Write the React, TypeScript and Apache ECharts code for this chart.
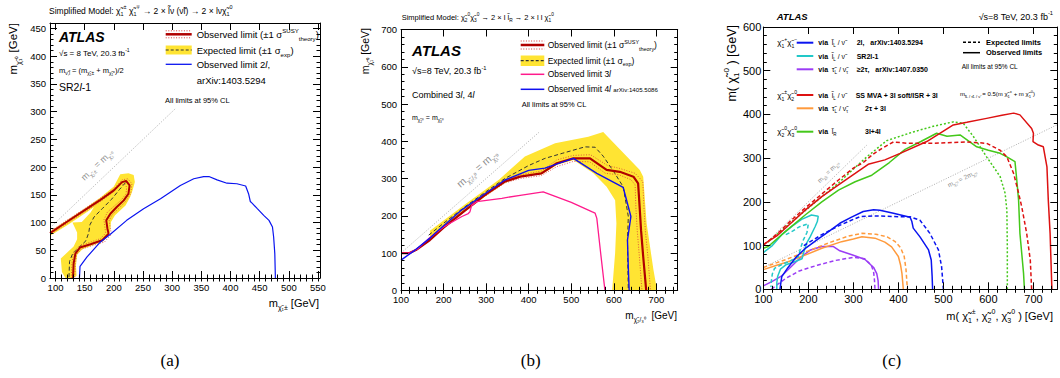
import React, { useEffect, useRef } from "react";
import * as echarts from "echarts";

const F = "Liberation Sans";
const YEL = "#FFE433";
const DRED = "#B00000";
const DOTRED = "#D83A3A";

// ---------------- panel (a) ----------------
const aXLabels = [100, 150, 200, 250, 300, 350, 400, 450, 500, 550];
const aYLabels = [0, 50, 100, 150, 200, 250, 300, 350, 400, 450];
const aBand = [[90.5,84],[120,104],[154,128],[177,145],[200,165],[211,187],[225,189],[234,186],[236,173],[232,158],[228,146],[220,131],[202,113],[195,101],[194,86],[191,76],[181,66],[161,58],[146,52],[137,42],[135,22],[136,4],[130,0],[117,0],[111,11],[109,35],[120,46],[131,57],[137,70],[137,82],[129,100],[145,101],[160,118],[166,128],[154,119],[120,95],[90.5,76]];
const aObs = [[90.5,81],[119,101],[154,125],[177,141],[200,158],[214,173],[221,175],[227,167],[225,152],[217,140],[205,128],[194,116],[187,104],[189,89],[191,80],[180,68],[160,61],[142,55],[134,44],[131,26],[130,0]];
const aObsUp = [[90.5,84],[119,104],[154,128],[177,144],[200,161],[214,177],[224,179],[231,170],[229,153],[221,139],[209,126],[197,114],[192,104],[194,89],[196,79],[184,65],[162,58],[144,52],[136,42],[134,26],[133,0]];
const aObsDown = [[90.5,78],[119,98],[154,122],[177,138],[199,155],[211,168],[218,170],[222,164],[221,152],[213,141],[201,130],[189,119],[183,105],[185,89],[186,81],[177,71],[158,64],[141,58],[131,47],[128,26],[127,0]];
const aExp = [[220,172],[210,160],[196,142],[180,125],[166,110],[159,96],[157,82],[152,67],[140,55],[129,43],[124,30],[123,0]];
const a2l = [[141,0],[142,21],[154,38],[177,65],[194,79],[222,104],[251,125],[280,143],[314,167],[337,179],[354,183],[363,183],[377,177],[394,171],[411,170],[426,166],[431,152],[434,138],[437,135],[446,125],[457,113],[466,104],[472,92],[474,74],[476,44],[477,0]];
const aDiag = [[90.5,90.5],[305,305]];

// ---------------- panel (b) ----------------
const bXLabels = [100, 200, 300, 400, 500, 600, 700];
const bYLabels = [0, 100, 200, 300, 400, 500, 600, 700];
const bBand = [[168,160],[250,230],[330,297],[391,359],[462,395],[540,412],[575,425],[661,323],[669,305],[677,180],[693,55],[700,10],[700,0],[596,0],[603,100],[606,180],[603,242],[583,278],[552,314],[505,350],[466,336],[430,311],[400,311],[344,288],[300,254],[250,211],[200,166],[168,140]];
const bObs = [[100,100],[120,100],[135,108],[168,135],[200,168],[250,214],[300,258],[344,292],[380,305],[430,314],[466,341],[505,354],[544,354],[583,323],[614,318],[646,305],[657,287],[661,216],[664,160],[669,90],[676,0]];
const bObsUp = [[300,262],[344,296],[380,310],[430,320],[466,350],[505,362],[545,364],[585,335],[614,327],[650,314],[668,292],[671,216],[674,160],[680,90],[686,0]];
const bObsDown = [[300,254],[344,288],[380,300],[430,308],[466,332],[505,346],[543,345],[580,314],[612,310],[640,297],[650,283],[652,216],[655,160],[660,90],[666,0]];
const bExp = [[165,148],[200,180],[250,224],[300,265],[344,300],[400,335],[438,354],[480,368],[532,385],[556,384],[575,360],[600,318],[622,278],[634,198],[632,135],[633,60],[634,0]];
const b3l = [[100,100],[120,100],[140,112],[168,142],[200,170],[243,198],[258,206],[262,211],[266,228],[278,238],[337,247],[380,255],[434,264],[500,236],[548,211],[556,207],[560,193],[569,100],[579,0]];
const b4l = [[100,81],[133,108],[168,140],[180,153],[243,216],[282,247],[344,296],[400,322],[438,328],[505,354],[560,314],[622,276],[640,198],[632,135],[634,60],[636,0]];
const bDiag = [[100,100],[425,425]];

// ---------------- panel (c) ----------------
const cXLabels = [100, 200, 300, 400, 500, 600, 700];
const cYLabels = [0, 100, 200, 300, 400, 500, 600];
const cRedObs = [[100,99],[104,105],[130,122],[160,150],[193,181],[230,212],[267,239],[304,265],[333,286],[370,296],[404,311],[463,338],[522,376],[552,382],[596,391],[630,398],[656,403],[670,399],[696,368],[700,357],[699,338],[711,330],[722,326],[730,280],[733,204],[737,128],[741,0]];
const cRedExp = [[100,101],[130,126],[160,156],[193,186],[230,218],[267,250],[300,277],[322,290],[345,310],[363,322],[389,337],[419,334],[478,334],[552,337],[596,334],[626,318],[641,303],[656,265],[667,220],[674,189],[685,128],[693,67],[696,0]];
const cGreenObs = [[100,94],[111,98],[150,133],[193,170],[230,200],[267,227],[304,246],[341,261],[380,290],[415,320],[450,338],[485,357],[508,350],[537,353],[574,326],[600,318],[626,311],[641,303],[659,292],[663,250],[667,204],[670,128],[678,37],[680,0]];
const cGreenExp = [[110,108],[150,143],[193,180],[230,212],[267,243],[300,275],[330,303],[374,340],[433,360],[478,373],[522,383],[544,380],[567,349],[596,303],[626,258],[637,220],[641,181],[642,97],[642,0]];
const cBlueObs = [[137,0],[139,15],[141,29],[155,50],[174,75],[195,95],[219,113],[245,132],[270,151],[296,165],[322,178],[345,182],[359,181],[389,174],[426,165],[430,155],[433,140],[448,120],[467,90],[473,67],[475,30],[476,0]];
const cBlueExp = [[190,100],[230,125],[267,145],[300,160],[315,166],[344,168],[404,166],[426,166],[448,158],[470,128],[489,90],[496,52],[500,0]];
const cCyanObs = [[100,84],[120,100],[141,125],[165,145],[185,160],[207,170],[222,167],[220,155],[215,143],[204,120],[196,105],[190,85],[186,70],[167,62],[150,56],[138,46],[132,30],[130,15],[130,0]];
const cCyanExp = [[150,125],[165,133],[180,143],[200,150],[197,130],[189,113],[183,95],[178,75],[160,65],[140,56],[125,48],[120,35],[118,20],[117,5]];
const cOrangeObs = [[100,45],[130,55],[155,63],[190,77],[230,94],[274,109],[300,115],[319,120],[348,117],[370,108],[385,97],[400,75],[405,55],[408,36],[411,0]];
const cOrangeExp = [[100,50],[150,68],[200,88],[250,108],[290,122],[319,128],[350,126],[375,120],[393,109],[405,95],[413,75],[417,45],[420,0]];
const cPurpleObs = [[100,8],[120,18],[140,30],[160,50],[185,75],[205,90],[230,98],[255,98],[270,88],[300,78],[326,68],[345,50],[352,36],[355,20],[356,0]];
const cPurpleExp = [[118,0],[130,10],[150,25],[180,42],[220,55],[260,66],[300,73],[325,70],[340,55],[345,40],[347,20],[348,0]];
const cDiag1 = [[100,100],[330,330]];
const cDiag2 = [[100,50],[752,376]];

const C = {
  blue: "#0A14F0", cyan: "#22C8C8", purple: "#9B3CF5", red: "#DD1111",
  orange: "#FF9A3C", green: "#44C81A", pink: "#FF1A8C", blueB: "#1010F0",
};

function steps(a: number, b: number, s: number) {
  const r: number[] = [];
  for (let v = a; v <= b + 1e-9; v += s) r.push(Math.round(v * 1000) / 1000);
  return r;
}

function rich(fs: number, bold = false) {
  const w = bold ? "bold" : "normal";
  const lh = Math.round(fs * 1.45);
  const s = Math.max(4, fs * 0.64);
  return {
    i: { fontSize: fs, fontFamily: F, fontWeight: w, fontStyle: "italic", lineHeight: lh },
    d: { fontSize: s, fontFamily: F, fontWeight: w, verticalAlign: "bottom", lineHeight: s + 1 },
    u: { fontSize: s, fontFamily: F, fontWeight: w, verticalAlign: "top", lineHeight: s + 1 },
    sm: { fontSize: fs * 0.72, fontFamily: F, fontWeight: w, lineHeight: lh },
  };
}

function T(x: number, y: number, text: string, fs: number, o: any = {}) {
  const align = o.align || "left";
  const va = o.va || "middle";
  return {
    type: "text", x, y, rotation: o.rot || 0, silent: true, z: 100,
    style: {
      text, fill: o.fill || "#000", align, verticalAlign: va, textAlign: align, textVerticalAlign: va,
      fontSize: fs, fontFamily: o.family || F, fontWeight: o.bold ? "bold" : "normal",
      fontStyle: o.italic ? "italic" : "normal", lineHeight: Math.round(fs * 1.45),
      rich: rich(fs, !!o.bold),
    },
  };
}

function Ln(x1: number, y1: number, x2: number, y2: number, stroke: string, lw: number, dash?: number[]) {
  return { type: "line", silent: true, z: 100, shape: { x1, y1, x2, y2 }, style: { stroke, lineWidth: lw, lineDash: dash || null } };
}

function axesFor(g: number, xr: number[], yr: number[], xMaj: number[], xMin: number[], yMaj: number[], yMin: number[], fs: number, xm: number, ym: number) {
  const base: any = { type: "value", gridIndex: g, splitLine: { show: false }, z: 10 };
  const line = { show: true, onZero: false, lineStyle: { color: "#000", width: 1 } };
  const tick = (vals: number[], len: number) => ({ show: true, inside: true, length: len, customValues: vals, lineStyle: { color: "#000", width: 1 } });
  const lab = (vals: number[], margin: number) => ({ show: true, customValues: vals, fontSize: fs, fontFamily: F, color: "#000", margin, formatter: (v: number) => String(Math.round(v)) });
  const nol = { show: false };
  const x = { ...base, min: xr[0], max: xr[1] };
  const y = { ...base, min: yr[0], max: yr[1] };
  const xs = [
    { ...x, position: "bottom", axisLine: line, axisTick: tick(xMaj, 7), axisLabel: lab(xMaj, xm) },
    { ...x, position: "bottom", axisLine: nol, axisTick: tick(xMin, 3.5), axisLabel: nol },
    { ...x, position: "top", axisLine: line, axisTick: tick(xMaj, 7), axisLabel: nol },
    { ...x, position: "top", axisLine: nol, axisTick: tick(xMin, 3.5), axisLabel: nol },
  ];
  const ys = [
    { ...y, position: "left", axisLine: line, axisTick: tick(yMaj, 7), axisLabel: lab(yMaj, ym) },
    { ...y, position: "left", axisLine: nol, axisTick: tick(yMin, 3.5), axisLabel: nol },
    { ...y, position: "right", axisLine: line, axisTick: tick(yMaj, 7), axisLabel: nol },
    { ...y, position: "right", axisLine: nol, axisTick: tick(yMin, 3.5), axisLabel: nol },
  ];
  return { xs, ys };
}

function L(data: number[][], g: number, color: string, width: number, type: any = "solid", z = 5) {
  return {
    type: "line", data, xAxisIndex: g * 4, yAxisIndex: g * 4, showSymbol: false, symbol: "none",
    lineStyle: { color, width, type }, silent: true, z, clip: true,
  };
}

function Band(poly: number[][], g: number) {
  return {
    type: "custom", xAxisIndex: g * 4, yAxisIndex: g * 4, silent: true, z: 2, clip: true,
    data: [[poly[0][0], poly[0][1]]],
    renderItem: (_p: any, api: any) => ({
      type: "polygon", shape: { points: poly.map((p) => api.coord(p)) }, style: { fill: YEL },
    }),
  };
}

const CHI = "χ̃";
const DOT = [1, 1.6];
const DASH = [4, 2.5];

export default function App() {
  const ref = useRef<HTMLDivElement>(null);
  useEffect(() => {
    if (!ref.current) return;
    const chart = echarts.init(ref.current, undefined, { renderer: "svg" });
    const A = axesFor(0, [90.5, 553.5], [0, 460], aXLabels, steps(100, 550, 10), aYLabels, steps(0, 460, 10), 9.5, 4, 4);
    const B = axesFor(1, [100, 750], [0, 700], bXLabels, steps(100, 740, 20), bYLabels, steps(0, 700, 20), 9.5, 4.5, 4);
    const Cx = axesFor(2, [100, 753], [0, 600], cXLabels, steps(100, 740, 20), cYLabels, steps(0, 600, 20), 11, 4.5, 2);

    const graphics: any[] = [
      // ----- panel (a) texts
      T(49, 10.7, `Simplified Model: ${CHI}{d|1}{u|±} ${CHI}{d|1}{u|∓} → 2 × l̃ν (ν̃l) → 2 × lν${CHI}{d|1}{u|0}`, 8.5),
      T(59, 36.7, "ATLAS", 14, { bold: true, italic: true }),
      T(59, 53.3, "√s = 8 TeV, 20.3 fb{u|-1}", 8),
      T(59, 70, `m{d|ν̃,l̃} = (m{d|${CHI}₁±} + m{d|${CHI}₁⁰})/2`, 7.5),
      T(59, 87.3, "SR2{i|l}-1", 10.5),
      T(196.7, 34.3, "Observed limit (±1 σ{u|SUSY}{d|theory})", 9.5),
      T(196.7, 50, "Expected limit (±1 σ{d|exp})", 9.5),
      T(196.7, 64.3, "Observed limit 2{i|l},", 9.5),
      T(196.7, 80, "arXiv:1403.5294", 9.5),
      T(165, 100, "All limits at 95% CL", 7.5),
      T(97, 165, `m{d|${CHI}₁±} = m{d|${CHI}₁⁰}`, 9, { align: "center", rot: (43.6 * Math.PI) / 180, fill: "#8c8c8c" }),
      T(13, 23, `m{d|${CHI}₁⁰} [GeV]`, 11.5, { align: "right", rot: Math.PI / 2 }),
      T(319, 303.3, `m{d|${CHI}₁±} [GeV]`, 11, { align: "right" }),
      T(170, 360, "(a)", 17, { align: "center", family: "Liberation Serif" }),
      // (a) legend samples
      Ln(165.7, 30.8, 191.7, 30.8, DOTRED, 1, DOT),
      Ln(165.7, 34.3, 191.7, 34.3, DRED, 2.5),
      Ln(165.7, 37.8, 191.7, 37.8, DOTRED, 1, DOT),
      { type: "rect", silent: true, z: 99, shape: { x: 165.7, y: 45.5, width: 26, height: 9 }, style: { fill: YEL } },
      Ln(165.7, 50, 191.7, 50, "#333", 1.2, [3, 2]),
      Ln(165.7, 64.3, 191.7, 64.3, C.blue, 1.3),

      // ----- panel (b) texts
      T(401.7, 17.3, `Simplified Model: ${CHI}{d|2}{u|0}${CHI}{d|3}{u|0} → 2 × l l̃{d|R} → 2 × l l ${CHI}{d|1}{u|0}`, 7.5),
      T(412, 50, "ATLAS", 15, { bold: true, italic: true }),
      T(412, 71, "√s=8 TeV, 20.3 fb{u|-1}", 9),
      T(412, 95, "Combined 3{i|l}, 4{i|l}", 9),
      T(412, 117, `m{d|${CHI}₂⁰} = m{d|${CHI}₃⁰}`, 7),
      T(547.7, 45, "Observed limit (±1 σ{u|SUSY}{d|theory})", 8.5),
      T(547.7, 60.7, "Expected limit (±1 σ{d|exp})", 8.5),
      T(547.7, 74.3, "Observed limit 3{i|l}", 8.5),
      T(547.7, 89.3, "Observed limit 4{i|l} {sm|arXiv:1405.5086}", 8.5),
      T(521.7, 104, "All limits at 95% CL", 7.5),
      T(477, 169, `m{d|${CHI}₂/₃⁰} = m{d|${CHI}₁⁰}`, 10.5, { align: "center", rot: (41.2 * Math.PI) / 180, fill: "#8c8c8c" }),
      T(365, 28, `m{d|${CHI}₁⁰} [GeV]`, 10.5, { align: "right", rot: Math.PI / 2 }),
      T(677, 315, `m{d|${CHI}₂/₃⁰}  [GeV]`, 10, { align: "right" }),
      T(530.7, 360, "(b)", 17, { align: "center", family: "Liberation Serif" }),
      Ln(520.7, 41, 544.3, 41, DOTRED, 1, DOT),
      Ln(520.7, 45, 544.3, 45, DRED, 2.5),
      Ln(520.7, 49, 544.3, 49, DOTRED, 1, DOT),
      { type: "rect", silent: true, z: 99, shape: { x: 520.7, y: 55.5, width: 23.6, height: 10.5 }, style: { fill: YEL } },
      Ln(520.7, 60.7, 544.3, 60.7, "#333", 1.2, [3, 2]),
      Ln(520.7, 74.3, 544.3, 74.3, C.pink, 1.5),
      Ln(520.7, 89.3, 544.3, 89.3, C.blueB, 1.5),

      // ----- panel (c) texts
      T(776.7, 16.7, "ATLAS", 9.5, { bold: true, italic: true }),
      T(1053, 16.7, "√s=8 TeV, 20.3 fb{u|-1}", 9, { align: "right" }),
      T(777.3, 42.7, `${CHI}{d|1}{u|+}${CHI}{d|1}{u|−}`, 8),
      T(777.3, 95, `${CHI}{d|1}{u|±}${CHI}{d|2}{u|0}`, 8),
      T(777.3, 131.7, `${CHI}{d|2}{u|0}${CHI}{d|3}{u|0}`, 8),
      Ln(796.7, 42.7, 813.3, 42.7, C.blue, 2),
      Ln(796.7, 56, 813.3, 56, C.cyan, 2),
      Ln(796.7, 69.3, 813.3, 69.3, C.purple, 2),
      Ln(796.7, 95, 813.3, 95, C.red, 2),
      Ln(796.7, 108.3, 813.3, 108.3, C.orange, 2),
      Ln(796.7, 131.7, 813.3, 131.7, C.green, 2),
      T(818.3, 42.7, "via", 7, { bold: true }),
      T(818.3, 56, "via", 7, { bold: true }),
      T(818.3, 69.3, "via", 7, { bold: true }),
      T(818.3, 95, "via", 7, { bold: true }),
      T(818.3, 108.3, "via", 7, { bold: true }),
      T(818.3, 131.7, "via", 7, { bold: true }),
      T(831.7, 42.7, "l̃{d|L} / ν̃", 7),
      T(831.7, 56, "l̃{d|L} / ν̃", 7),
      T(831.7, 69.3, "τ̃{d|L} / ν̃{d|τ}", 7),
      T(831.7, 95, "l̃{d|L} / ν̃", 7),
      T(831.7, 108.3, "τ̃{d|L} / ν̃{d|τ}", 7),
      T(831.7, 131.7, "l̃{d|R}", 7),
      T(856.7, 42.7, "2l,   arXiv:1403.5294", 7, { bold: true }),
      T(856.7, 56, "SR2l-1", 7, { bold: true }),
      T(856.7, 69.3, "≥2τ,   arXiv:1407.0350", 7, { bold: true }),
      T(855.7, 95, "SS MVA + 3l soft/ISR + 3l", 7, { bold: true }),
      T(865, 108.3, "2τ + 3l", 7, { bold: true }),
      T(865, 131.7, "3l+4l", 7, { bold: true }),
      Ln(963, 42.3, 980, 42.3, "#000", 1.5, [3, 2]),
      Ln(963, 52.7, 980, 52.7, "#000", 1.5),
      T(986, 42.3, "Expected limits", 7.5, { bold: true }),
      T(986, 52.7, "Observed limits", 7.5, { bold: true }),
      T(961.7, 66.7, "All limits at 95% CL", 6.5),
      T(960, 94.3, `m{d|l̃L / τ̃L / ν̃} = 0.5(m ${CHI}{d|1}{u|±} + m ${CHI}{d|1}{u|0})`, 6),
      T(828, 172, `m{d|${CHI}±} = m{d|${CHI}₁⁰}`, 6.5, { align: "center", rot: (44.2 * Math.PI) / 180, fill: "#8c8c8c" }),
      T(962, 178.5, `m{d|${CHI}₂⁰} = 2m{d|${CHI}₁⁰}`, 6.5, { align: "center", rot: (25.9 * Math.PI) / 180, fill: "#8c8c8c" }),
      T(731.7, 25, `m( ${CHI}{d|1}{u|0} ) [GeV]`, 12.5, { align: "right", rot: Math.PI / 2 }),
      T(1053, 316, `m( ${CHI}{d|1}{u|±}, ${CHI}{d|2}{u|0}, ${CHI}{d|3}{u|0} ) [GeV]`, 11, { align: "right" }),
      T(891.7, 360, "(c)", 17, { align: "center", family: "Liberation Serif" }),
    ];

    const series: any[] = [
      // (a)
      Band(aBand, 0),
      L(aDiag, 0, "#999", 0.8, DOT, 3),
      L(aExp, 0, "#333", 1, DASH),
      L(aObsUp, 0, DOTRED, 0.8, DOT),
      L(aObsDown, 0, DOTRED, 0.8, DOT),
      L(aObs, 0, DRED, 2),
      L(a2l, 0, C.blue, 1.2),
      // (b)
      Band(bBand, 1),
      L(bDiag, 1, "#999", 0.8, DOT, 3),
      L(bExp, 1, "#333", 1, DASH),
      L(bObsUp, 1, DOTRED, 0.8, DOT),
      L(bObsDown, 1, DOTRED, 0.8, DOT),
      L(bObs, 1, DRED, 2.2),
      L(b3l, 1, C.pink, 1.3),
      L(b4l, 1, C.blueB, 1.4),
      // (c)
      L(cDiag1, 2, "#999", 0.8, DOT, 3),
      L(cDiag2, 2, "#999", 0.8, DOT, 3),
      L(cPurpleObs, 2, C.purple, 1.5),
      L(cPurpleExp, 2, C.purple, 1.5, DASH),
      L(cOrangeObs, 2, C.orange, 1.5),
      L(cOrangeExp, 2, C.orange, 1.5, DASH),
      L(cCyanObs, 2, C.cyan, 1.5),
      L(cCyanExp, 2, C.cyan, 1.5, DASH),
      L(cBlueObs, 2, C.blue, 1.5),
      L(cBlueExp, 2, C.blue, 1.5, DASH),
      L(cGreenObs, 2, C.green, 1.5),
      L(cGreenExp, 2, C.green, 1.5, [2, 2]),
      L(cRedObs, 2, C.red, 1.5),
      L(cRedExp, 2, C.red, 1.5, DASH),
    ];

    chart.setOption({
      animation: false,
      backgroundColor: "#fff",
      textStyle: { fontFamily: F },
      grid: [
        { left: 50, top: 23, width: 270, height: 255, containLabel: false },
        { left: 401, top: 29.5, width: 276.7, height: 260.8, containLabel: false },
        { left: 763.3, top: 27, width: 294, height: 262.3, containLabel: false },
      ],
      xAxis: [...A.xs, ...B.xs, ...Cx.xs],
      yAxis: [...A.ys, ...B.ys, ...Cx.ys],
      series,
      graphic: { elements: graphics },
    });
    return () => chart.dispose();
  }, []);
  return <div ref={ref} style={{ position: "fixed", left: 0, top: 0, width: 1060, height: 378, background: "#fff" }} />;
}
